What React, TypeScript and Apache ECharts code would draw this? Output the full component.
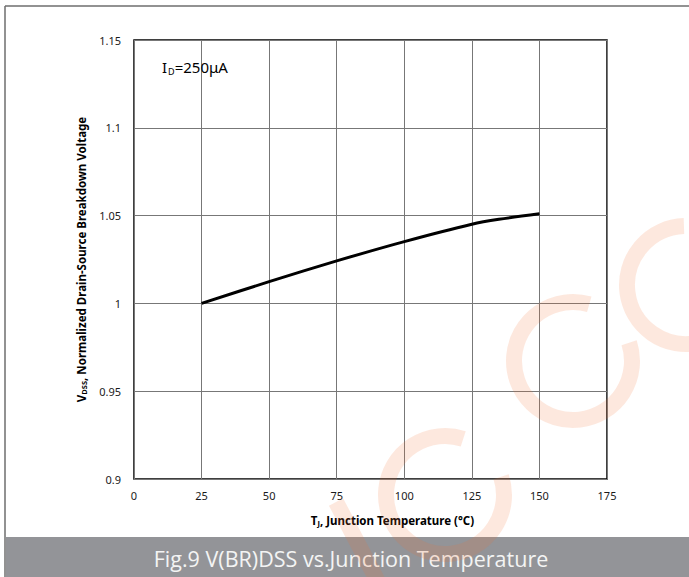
import React, { useEffect, useRef } from "react";
import * as echarts from "echarts";

const temperatures = [25, 50, 75, 100, 125, 135, 150];
const normalizedVoltage = [1.0, 1.0124, 1.0242, 1.0352, 1.0451, 1.0479, 1.051];
const xTicks = { min: 0, max: 175, interval: 25 };
const yTicks = { min: 0.9, max: 1.15, interval: 0.05 };
const captionText = "Fig.9 V(BR)DSS vs.Junction Temperature";

const WM = "rgba(242,110,50,0.16)";
const deg = (d: number) => (d * Math.PI) / 180;

export default function App() {
  const ref = useRef<HTMLDivElement>(null);
  useEffect(() => {
    if (!ref.current) return;
    const chart = echarts.init(ref.current, null, { renderer: "svg" });
    const data = temperatures.map((t, i) => [t, normalizedVoltage[i]]);
    const nameRich = {
      b: { fontSize: 11.5, fontWeight: "bold", fontFamily: "Noto Sans", color: "#000" },
      s: { fontSize: 7.5, fontWeight: "bold", fontFamily: "Noto Sans", color: "#000", padding: [6, 0, 0, 0] },
    };
    chart.setOption({
      animation: false,
      backgroundColor: "#ffffff",
      grid: {
        left: 134,
        top: 40,
        right: 82,
        bottom: 98,
        show: true,
        borderColor: "#000",
        borderWidth: 1.5,
        backgroundColor: "transparent",
      },
      xAxis: {
        type: "value",
        min: xTicks.min,
        max: xTicks.max,
        interval: xTicks.interval,
        axisLine: { show: false },
        axisTick: { show: false },
        splitLine: { show: true, lineStyle: { color: "#777", width: 1 } },
        axisLabel: {
          margin: 11,
          color: "#1a1a1a",
          fontSize: 11,
          fontFamily: "Noto Sans",
        },
        name: "{b|T}{s|J}{b|, Junction Temperature (°C)}",
        nameLocation: "middle",
        nameGap: 34,
        nameTextStyle: { padding: [0, 0, 0, 44], rich: nameRich },
      },
      yAxis: {
        type: "value",
        min: yTicks.min,
        max: yTicks.max,
        interval: yTicks.interval,
        axisLine: { show: false },
        axisTick: { show: false },
        splitLine: { show: true, lineStyle: { color: "#777", width: 1 } },
        axisLabel: {
          margin: 13,
          color: "#1a1a1a",
          fontSize: 11,
          fontFamily: "Noto Sans",
          formatter: (v: number) => String(+v.toFixed(2)),
        },
        name: "{b|V}{s|DSS}{b|, Normalized Drain-Source Breakdown Voltage}",
        nameLocation: "middle",
        nameGap: 45,
        nameTextStyle: { rich: nameRich },
      },
      series: [
        {
          type: "line",
          data,
          smooth: 0.3,
          symbol: "none",
          lineStyle: { color: "#000", width: 3 },
          z: 5,
        },
      ],
      graphic: [
        {
          type: "line",
          shape: { x1: 5, y1: 6, x2: 5, y2: 577 },
          style: { stroke: "#6e6e6e", lineWidth: 1.5 },
          z: 1,
        },
        {
          type: "line",
          shape: { x1: 5, y1: 6, x2: 689, y2: 6 },
          style: { stroke: "#6e6e6e", lineWidth: 1.5 },
          z: 1,
        },
        {
          type: "rect",
          shape: { x: 6, y: 537, width: 683, height: 40 },
          style: { fill: "#939498" },
          z: 10,
        },
        {
          type: "text",
          x: 351,
          y: 558,
          style: {
            text: captionText,
            fill: "#f4f4f4",
            font: "21.5px 'Open Sans'",
            align: "center",
            verticalAlign: "middle",
          },
          z: 11,
        },
        {
          type: "text",
          left: 162,
          top: 59,
          style: {
            text: "{a|I}{s|D}{a|=250μA}",
            rich: {
              a: { fontSize: 15, fontFamily: "Noto Sans", fill: "#000", color: "#000" },
              s: { fontSize: 9, fontFamily: "Noto Sans", fill: "#000", color: "#000", padding: [9, 0, 0, 1] },
            },
          },
          z: 12,
        },
        {
          type: "line",
          shape: { x1: 336, y1: 502, x2: 385, y2: 595 },
          style: { stroke: WM, lineWidth: 16 },
          z: 100,
        },
        {
          type: "arc",
          shape: { cx: 445, cy: 495, r: 59, startAngle: deg(-18), endAngle: deg(288), clockwise: true },
          style: { stroke: WM, lineWidth: 16, fill: "none" },
          z: 100,
        },
        {
          type: "arc",
          shape: { cx: 573, cy: 361, r: 59, startAngle: deg(-18), endAngle: deg(286), clockwise: true },
          style: { stroke: WM, lineWidth: 16, fill: "none" },
          z: 100,
        },
        {
          type: "arc",
          shape: { cx: 686, cy: 285, r: 59, startAngle: deg(-18), endAngle: deg(268), clockwise: true },
          style: { stroke: WM, lineWidth: 16, fill: "none" },
          z: 100,
        },
      ],
    });
    return () => chart.dispose();
  }, []);
  return (
    <div
      ref={ref}
      style={{ position: "fixed", left: 0, top: 0, width: 689, height: 577 }}
    />
  );
}
